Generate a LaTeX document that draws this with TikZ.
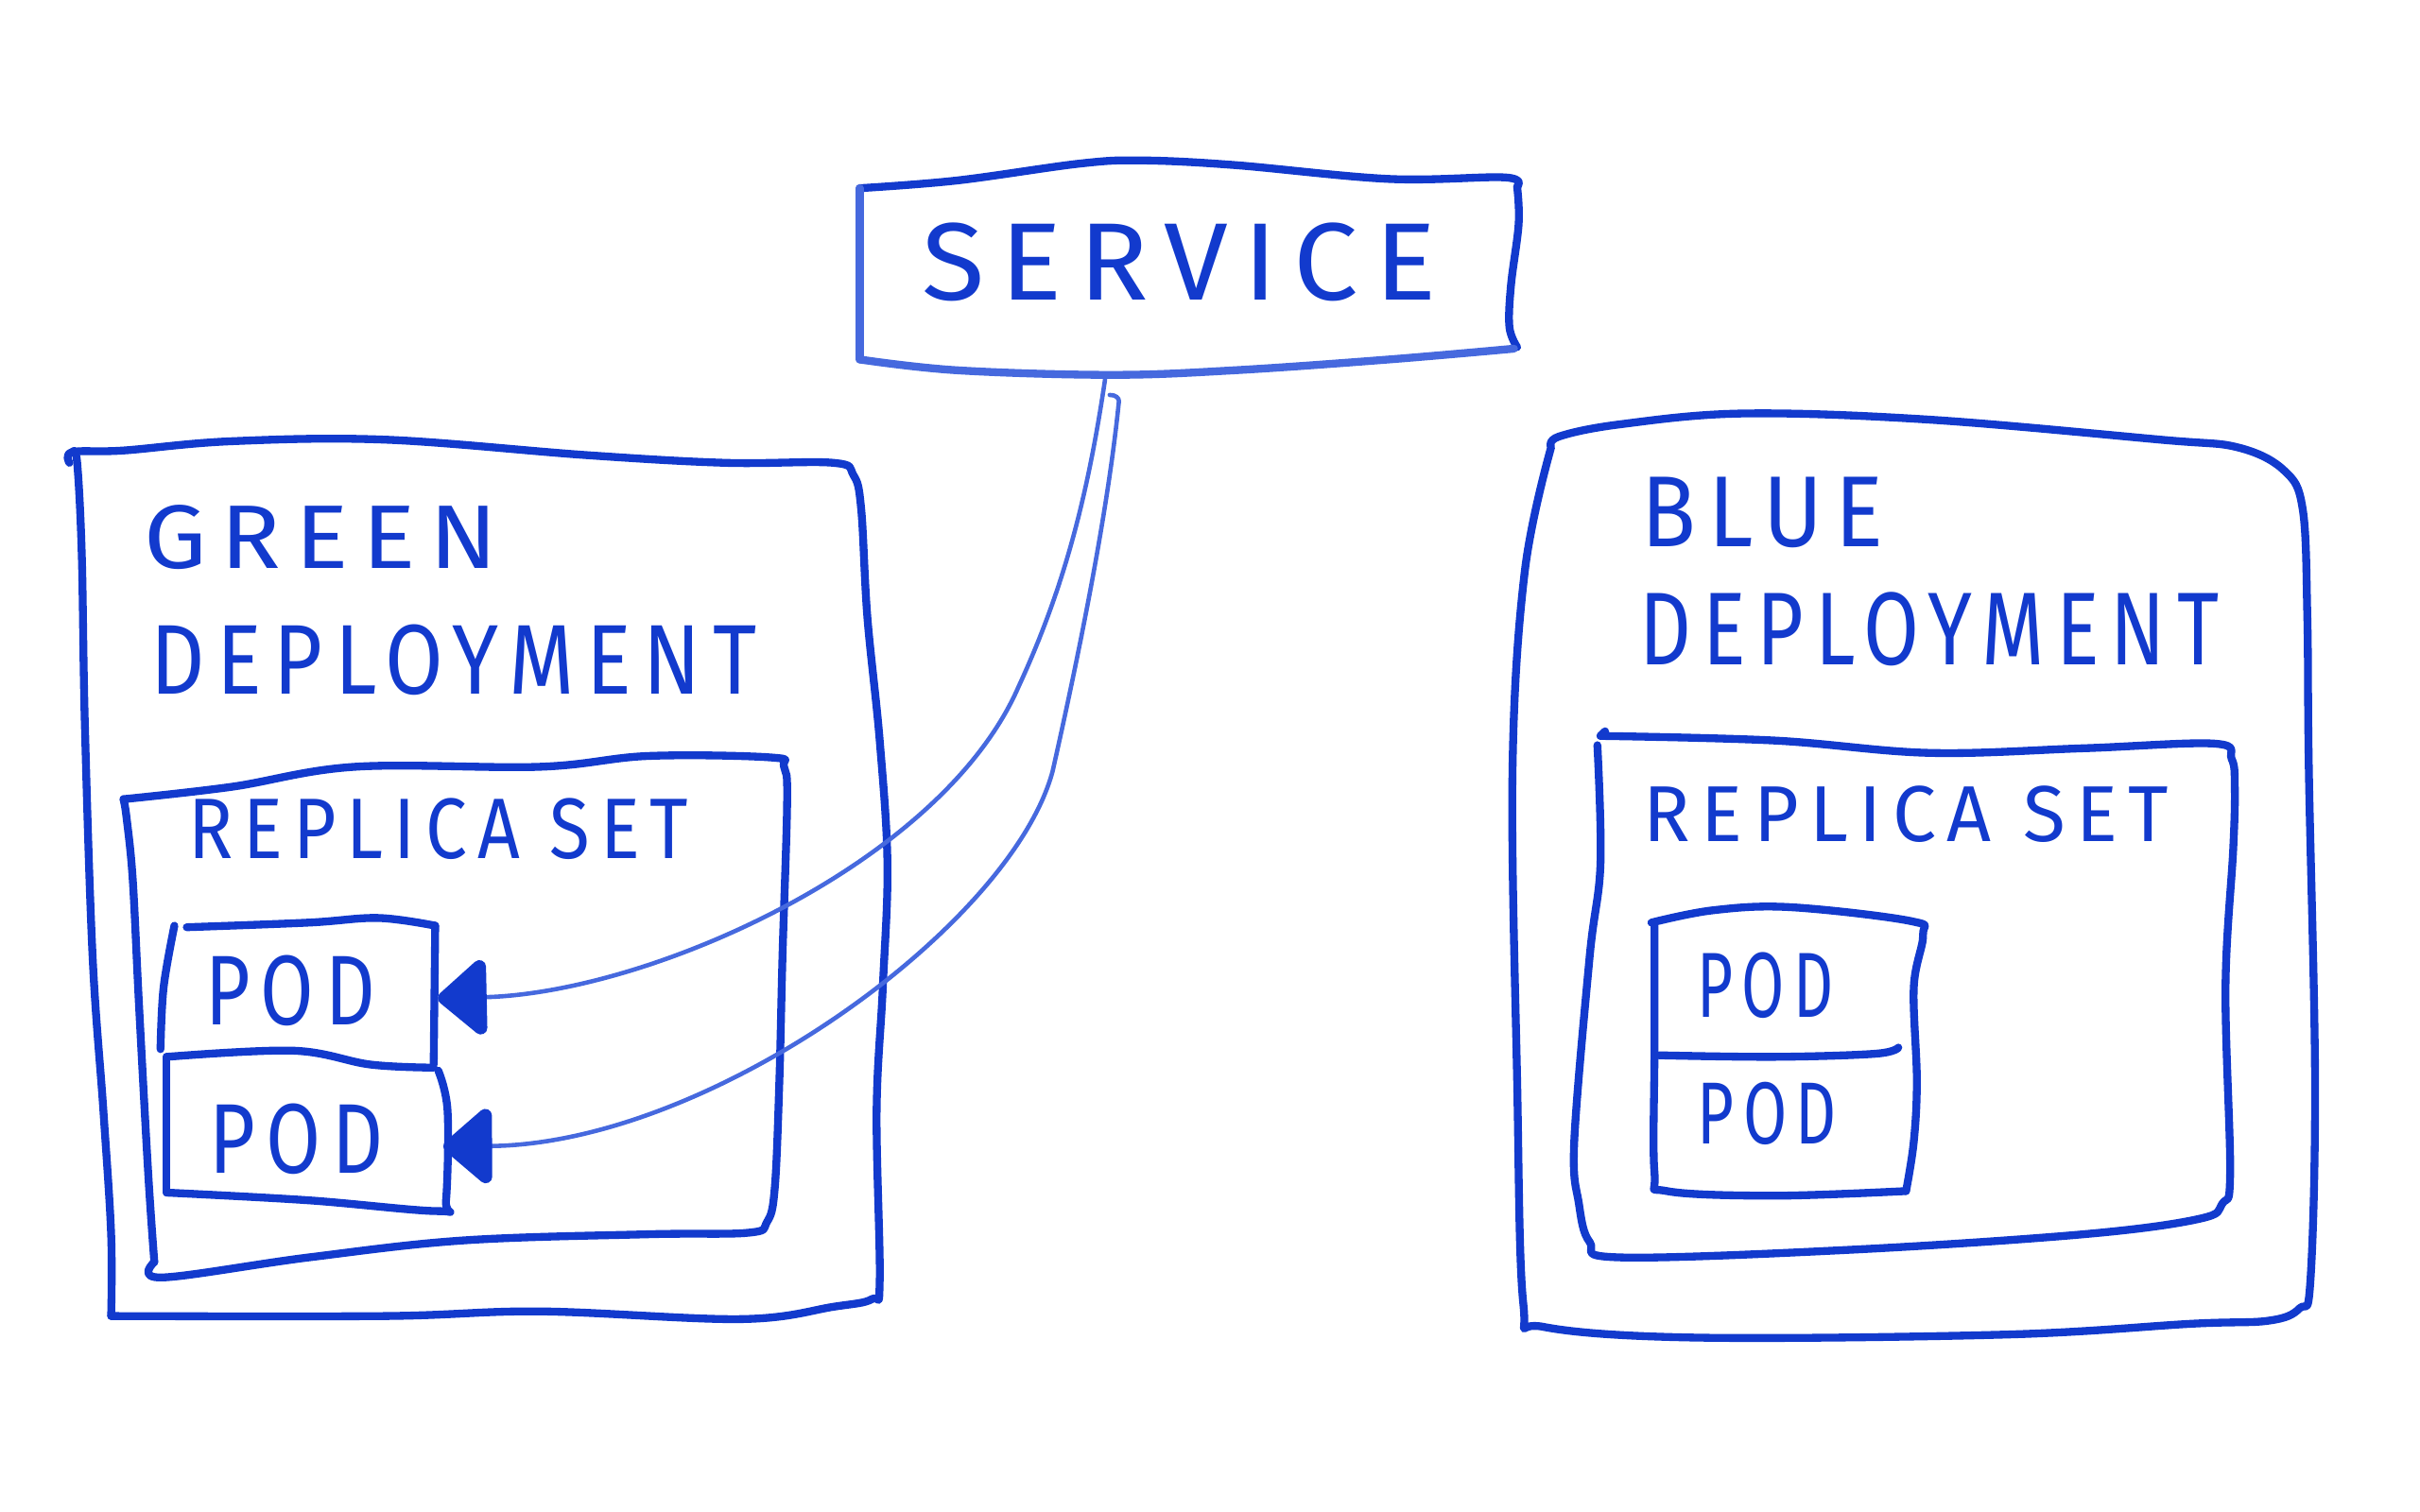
\documentclass[tikz,border=0pt]{standalone}
\usepackage{fontspec}
\usepackage{graphicx}
\newfontfamily\hand[LetterSpace=14]{Fira Sans}
\usetikzlibrary{arrows.meta}
\definecolor{pen}{RGB}{18,58,205}
\definecolor{thinpen}{RGB}{70,105,222}
\newcommand\hw[3]{\resizebox{#1cm}{#2cm}{\hand #3}}
\begin{document}
\begin{tikzpicture}[x=0.01cm,y=-0.01cm,
  hand/.style={draw=pen, line width=1.45pt, line cap=round, line join=round},
  lightline/.style={draw=thinpen, line width=0.8pt, line cap=round},
  lbl/.style={inner sep=0pt, text=pen},
  hold/.style={draw=none, inner sep=0pt},
  tip/.style={-{Triangle[length=0.34cm,width=0.56cm,line width=2.6pt,round,color=pen]}}
]
\useasboundingbox (0,0) rectangle (1568,980);
\fill[white] (0,0) rectangle (1568,980);

% ---------- invisible anchor nodes ----------
\node[hold, minimum width=4.26cm, minimum height=1.39cm] (service) at (770,173) {};
\node[hold, minimum width=1.86cm, minimum height=0.92cm] (pod1) at (197,644) {};
\node[hold, minimum width=1.83cm, minimum height=0.95cm] (pod2) at (199,737) {};
\coordinate (s1) at (716,246);
\coordinate (s2) at (725,260);

% ---------- SERVICE box ----------
\draw[hand] plot[smooth,tension=.6] coordinates {(557,122)(620,117)(700,106)(740,104)(800,107)(900,116)(975,115)(983,121)};
\draw[hand] plot[smooth,tension=.6] coordinates {(983,121)(984,145)(979,185)(978,212)(983,225)};
\draw[hand,draw=thinpen] plot[smooth,tension=.6] coordinates {(981,226)(900,233)(800,240)(720,243)(620,240)(557,233)};
\draw[hand,draw=thinpen] (557,233) -- (557,122);
\node[lbl] (tservice) at (764,170) {\hw{3.33}{0.50}{SERVICE}};

% ---------- GREEN deployment ----------
\draw[hand] plot[smooth,tension=.6] coordinates {(45,300)(47,293)(80,292)(150,286)(250,285)(380,295)(470,300)(540,300)(553,308)(558,330)(562,400)(570,480)(575,560)(572,640)(568,720)(570,830)(565,842)(540,847)(480,855)(350,850)(250,853)(72,853)};
\draw[hand] plot[smooth,tension=.6] coordinates {(72,853)(72,800)(67,720)(60,620)(55,470)(53,360)(50,300)(47,293)};
\node[lbl] (tgreen) at (208,348) {\hw{2.29}{0.41}{GREEN}};
\node[lbl] (tgdep) at (294,428) {\hw{3.92}{0.45}{DEPLOYMENT}};

% replica set (green)
\draw[hand] plot[smooth,tension=.6] coordinates {(80,518)(150,510)(230,497)(350,497)(420,490)(500,491)(508,497)(510,520)(507,620)(505,700)(502,770)(497,792)(485,799)(420,800)(300,804)(200,815)(105,828)(100,818)};
\draw[hand] plot[smooth,tension=.6] coordinates {(100,818)(96,760)(90,650)(86,570)(82,530)(80,518)};
\node[lbl] (tgrs) at (284,537) {\hw{3.24}{0.39}{REPLICA SET}};

% pods (green)
\draw[hand] plot[smooth,tension=.6] coordinates {(121,601)(200,598)(245,595)(282,600)};
\draw[hand] (282,600) -- (281,690);
\draw[hand] plot[smooth,tension=.6] coordinates {(281,692)(240,690)(190,681)(108,685)};
\draw[hand] plot[smooth,tension=.6] coordinates {(113,600)(106,640)(104,680)};
\node[lbl] (tpod1) at (188,642) {\hw{1.10}{0.45}{POD}};
\draw[hand] plot[smooth,tension=.6] coordinates {(284,694)(290,720)(289,778)(284,785)(200,778)(108,773)};
\draw[hand] (108,773) -- (108,685);
\node[lbl] (tpod2) at (192,738) {\hw{1.13}{0.45}{POD}};

% ---------- BLUE deployment ----------
\draw[hand] plot[smooth,tension=.6] coordinates {(1005,290)(1010,283)(1050,275)(1130,268)(1250,272)(1400,285)(1450,290)(1480,305)(1492,330)(1495,400)(1496,500)(1500,700)(1497,830)(1490,848)(1470,856)(1420,858)(1300,865)(1100,867)(1000,860)(987,845)(983,700)(980,500)(988,370)(1005,290)};
\node[lbl] (tblue) at (1142,332) {\hw{1.57}{0.45}{BLUE}};
\node[lbl] (tbdep) at (1250,408) {\hw{3.75}{0.47}{DEPLOYMENT}};

% replica set (blue)
\draw[hand] plot[smooth,tension=.6] coordinates {(1037,477)(1150,480)(1250,488)(1350,485)(1435,482)(1446,492)(1448,510)(1447,550)(1442,640)(1445,760)(1440,780)(1425,790)(1350,800)(1200,810)(1050,815)(1030,805)(1023,780)(1020,740)(1030,620)(1037,560)(1035,483)};
\draw[hand] (1037,477) -- (1040,474);
\node[lbl] (tbrs) at (1235,528) {\hw{3.40}{0.36}{REPLICA SET}};

% pod box (blue)
\draw[hand] plot[smooth,tension=.6] coordinates {(1070,598)(1110,590)(1160,588)(1238,597)(1246,606)(1240,640)(1242,700)(1240,740)(1235,772)};
\draw[hand] plot[smooth,tension=.6] coordinates {(1235,772)(1150,775)(1080,772)(1072,760)(1072,680)(1072,600)};
\draw[hand] plot[smooth,tension=.6] coordinates {(1075,684)(1150,685)(1215,683)(1230,679)};
\node[lbl] (tbpod1) at (1144,639) {\hw{0.88}{0.42}{POD}};
\node[lbl] (tbpod2) at (1145,722) {\hw{0.90}{0.40}{POD}};

% ---------- connectors ----------
\draw[lightline,tip] (s1) .. controls (705,320) and (690,380) .. (660,445)
   .. controls (610,560) and (420,644) .. ([xshift=-0.07cm,yshift=-0.03cm]pod1.east);
\draw[lightline,tip] (719,256) .. controls (723,256) and (725,258) .. (s2)
   .. controls (718,330) and (700,420) .. (682,500)
   .. controls (655,600) and (460,742) .. ([xshift=-0.04cm,yshift=-0.06cm]pod2.east);
\end{tikzpicture}
\end{document}
